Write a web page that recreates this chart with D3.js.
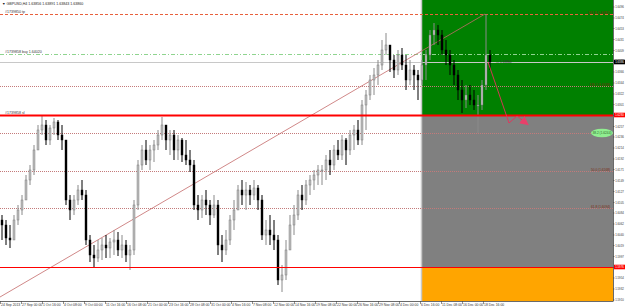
<!DOCTYPE html>
<html>
<head>
<meta charset="utf-8">
<script src="https://cdn.jsdelivr.net/npm/d3@7"></script>
<style>
    body { margin: 0; background: #fff; }
    svg { display: block; font-family: "Liberation Sans", Arial, sans-serif; }
</style>
</head>
<body>
<div class="visualisation"></div>
<script>
// GBPUSD H4, one candle here = 12 hours
const opens = [
    1.6070, 1.6060, 1.6034, 1.6030, 1.6070, 1.6090, 1.6110, 1.6150, 1.6170, 1.6210,
    1.6250, 1.6260, 1.6230, 1.6254, 1.6266, 1.6240, 1.6230, 1.6110, 1.6090, 1.6110,
    1.6130, 1.6120, 1.6030, 1.6000, 1.5994, 1.6010, 1.6020, 1.6014, 1.6026, 1.6030,
    1.6010, 1.6020, 1.6000, 1.6010, 1.6100, 1.6180, 1.6210, 1.6190, 1.6210, 1.6220,
    1.6240, 1.6260, 1.6230, 1.6240, 1.6210, 1.6230, 1.6200, 1.6190, 1.6180, 1.6100,
    1.6090, 1.6110, 1.6100, 1.6080, 1.6100, 1.6020, 1.6010, 1.6030, 1.6070, 1.6090,
    1.6130, 1.6120, 1.6130, 1.6120, 1.6134, 1.6110, 1.6040, 1.6050, 1.6040, 1.6030,
    1.5950, 1.5960, 1.6010, 1.6060, 1.6080, 1.6120, 1.6110, 1.6140, 1.6150, 1.6160,
    1.6170, 1.6170, 1.6190, 1.6180, 1.6210, 1.6200, 1.6230, 1.6210, 1.6240, 1.6250,
    1.6230, 1.6300, 1.6320, 1.6350, 1.6360, 1.6380, 1.6410, 1.6420, 1.6390, 1.6370,
    1.6400, 1.6380, 1.6350, 1.6370, 1.6360, 1.6350, 1.6380, 1.6400, 1.6440, 1.6450,
    1.6440, 1.6410, 1.6400, 1.6380, 1.6360, 1.6330, 1.6310, 1.6320, 1.6310, 1.6300,
    1.6300, 1.6340, 1.6400
];
const highs = [
    1.6080, 1.6070, 1.6060, 1.6080, 1.6100, 1.6120, 1.6160, 1.6180, 1.6220, 1.6260,
    1.6280, 1.6270, 1.6260, 1.6274, 1.6270, 1.6260, 1.6230, 1.6120, 1.6120, 1.6140,
    1.6150, 1.6130, 1.6040, 1.6020, 1.6030, 1.6034, 1.6040, 1.6034, 1.6050, 1.6046,
    1.6040, 1.6030, 1.6020, 1.6110, 1.6190, 1.6220, 1.6230, 1.6220, 1.6230, 1.6250,
    1.6276, 1.6260, 1.6250, 1.6250, 1.6240, 1.6234, 1.6230, 1.6210, 1.6190, 1.6120,
    1.6120, 1.6130, 1.6110, 1.6120, 1.6110, 1.6040, 1.6050, 1.6080, 1.6110, 1.6140,
    1.6150, 1.6146, 1.6140, 1.6150, 1.6140, 1.6120, 1.6070, 1.6080, 1.6070, 1.6040,
    1.5980, 1.6030, 1.6080, 1.6100, 1.6130, 1.6140, 1.6150, 1.6160, 1.6170, 1.6180,
    1.6180, 1.6200, 1.6210, 1.6220, 1.6230, 1.6240, 1.6234, 1.6250, 1.6260, 1.6270,
    1.6310, 1.6330, 1.6360, 1.6374, 1.6390, 1.6430, 1.6444, 1.6420, 1.6400, 1.6410,
    1.6414, 1.6400, 1.6390, 1.6380, 1.6370, 1.6390, 1.6410, 1.6450, 1.6464, 1.6460,
    1.6450, 1.6430, 1.6410, 1.6390, 1.6370, 1.6350, 1.6340, 1.6340, 1.6330, 1.6320,
    1.6350, 1.6482, 1.6410
];
const lows = [
    1.6030, 1.6020, 1.6014, 1.6030, 1.6060, 1.6080, 1.6110, 1.6140, 1.6160, 1.6210,
    1.6240, 1.6220, 1.6220, 1.6240, 1.6230, 1.6210, 1.6100, 1.6070, 1.6080, 1.6100,
    1.6110, 1.6020, 1.5986, 1.5974, 1.5986, 1.5990, 1.5994, 1.5994, 1.6000, 1.5998,
    1.5994, 1.5986, 1.5970, 1.6000, 1.6090, 1.6170, 1.6180, 1.6170, 1.6186, 1.6210,
    1.6230, 1.6210, 1.6200, 1.6190, 1.6190, 1.6186, 1.6180, 1.6166, 1.6090, 1.6070,
    1.6074, 1.6080, 1.6060, 1.6074, 1.6000, 1.5986, 1.6000, 1.6020, 1.6050, 1.6090,
    1.6100, 1.6090, 1.6100, 1.6110, 1.6090, 1.6030, 1.6020, 1.6020, 1.6010, 1.5940,
    1.5926, 1.5950, 1.6010, 1.6040, 1.6070, 1.6090, 1.6100, 1.6120, 1.6130, 1.6140,
    1.6140, 1.6150, 1.6160, 1.6170, 1.6190, 1.6190, 1.6180, 1.6200, 1.6210, 1.6220,
    1.6220, 1.6250, 1.6310, 1.6320, 1.6340, 1.6370, 1.6400, 1.6366, 1.6354, 1.6360,
    1.6370, 1.6330, 1.6340, 1.6330, 1.6310, 1.6340, 1.6350, 1.6390, 1.6420, 1.6420,
    1.6400, 1.6380, 1.6360, 1.6340, 1.6310, 1.6284, 1.6294, 1.6300, 1.6290, 1.6244,
    1.6290, 1.6330, 1.6370
];
const closes = [
    1.6060, 1.6034, 1.6030, 1.6070, 1.6090, 1.6110, 1.6150, 1.6170, 1.6210, 1.6250,
    1.6260, 1.6230, 1.6254, 1.6266, 1.6240, 1.6230, 1.6110, 1.6090, 1.6110, 1.6130,
    1.6120, 1.6030, 1.6000, 1.5994, 1.6010, 1.6020, 1.6014, 1.6026, 1.6030, 1.6010,
    1.6020, 1.6000, 1.6010, 1.6100, 1.6180, 1.6210, 1.6190, 1.6210, 1.6220, 1.6240,
    1.6260, 1.6230, 1.6240, 1.6210, 1.6230, 1.6200, 1.6190, 1.6180, 1.6100, 1.6090,
    1.6110, 1.6100, 1.6080, 1.6100, 1.6020, 1.6010, 1.6030, 1.6070, 1.6090, 1.6130,
    1.6120, 1.6130, 1.6120, 1.6134, 1.6110, 1.6040, 1.6050, 1.6040, 1.6030, 1.5950,
    1.5960, 1.6010, 1.6060, 1.6080, 1.6120, 1.6110, 1.6140, 1.6150, 1.6160, 1.6170,
    1.6170, 1.6190, 1.6180, 1.6210, 1.6200, 1.6230, 1.6210, 1.6240, 1.6250, 1.6230,
    1.6300, 1.6320, 1.6350, 1.6360, 1.6380, 1.6410, 1.6420, 1.6390, 1.6370, 1.6400,
    1.6380, 1.6350, 1.6370, 1.6360, 1.6350, 1.6380, 1.6400, 1.6440, 1.6450, 1.6440,
    1.6410, 1.6400, 1.6380, 1.6360, 1.6330, 1.6310, 1.6320, 1.6310, 1.6300, 1.6300,
    1.6340, 1.6400, 1.6386
];

const dateLabels = ["24 Sep 2013", "27 Sep 00:00", "1 Oct 16:00", "4 Oct 08:00", "9 Oct 00:00",
    "11 Oct 16:00", "16 Oct 08:00", "21 Oct 00:00", "23 Oct 16:00", "28 Oct 08:00",
    "31 Oct 00:00", "4 Nov 16:00", "7 Nov 08:00", "12 Nov 00:00", "14 Nov 16:00",
    "19 Nov 08:00", "22 Nov 00:00", "26 Nov 16:00", "29 Nov 08:00", "4 Dec 00:00",
    "6 Dec 16:00", "11 Dec 08:00", "16 Dec 00:00", "18 Dec 16:00"];
const priceTicks = [1.6496, 1.6474, 1.6453, 1.6431, 1.6409, 1.6388, 1.6366, 1.6344, 1.6322,
    1.6301, 1.6279, 1.6257, 1.6236, 1.6214, 1.6192, 1.6171, 1.6149, 1.6127, 1.6105, 1.6084,
    1.6062, 1.6040, 1.6019, 1.5997, 1.5975, 1.5954, 1.5932, 1.5910];

// order levels and fibo levels
const tpLevel = 1.6482, buyLevel = 1.6402, bidLevel = 1.6386, slLevel = 1.6280, lowLevel = 1.5976;
const fiboLevels = [1.6338, 1.6244, 1.6168, 1.6094];
const fiboNames = ["138.2", "38.2", "50.0", "61.8"];
const zoneStart = 105;
const trendStart = [-0.5, 1.5916], trendEnd = [120.75, 1.6482];
const arrowPath = [[121.5, 1.6386], [126.75, 1.6264], [128.75, 1.6278], [131, 1.6264]];

const width = 625, height = 307;
const plotRight = 613, plotBottom = 301;

const svg = d3.select(".visualisation")
    .append("svg")
    .attr("width", width)
    .attr("height", height);

const x = d3.scaleLinear().domain([-0.5, 152.75]).range([0, plotRight]);
const y = d3.scaleLinear().domain([1.6510, 1.5908]).range([0, plotBottom]);

svg.append("defs").append("clipPath").attr("id", "plot")
    .append("rect").attr("width", plotRight).attr("height", plotBottom);

const g = svg.append("g").attr("clip-path", "url(#plot)");

// zones
const x0 = x(zoneStart) - 0.5;
const zones = [
    { top: 1.6510, bottom: slLevel, color: "#008000" },
    { top: slLevel, bottom: lowLevel, color: "#808080" },
    { top: lowLevel, bottom: 1.5908, color: "#ffa500" }
];
g.selectAll("rect.zone").data(zones).join("rect")
    .attr("class", "zone")
    .attr("x", x0)
    .attr("y", d => y(d.top))
    .attr("width", plotRight - x0)
    .attr("height", d => y(d.bottom) - y(d.top))
    .attr("fill", d => d.color);
g.append("line")
    .attr("x1", x0).attr("x2", x0).attr("y1", 0).attr("y2", plotBottom)
    .attr("stroke", "#c8c8c8").attr("stroke-width", 1.5);

// horizontal lines
function hline(price, color, dash, w) {
    g.append("line")
        .attr("x1", 0).attr("x2", plotRight)
        .attr("y1", Math.round(y(price)) + 0.5).attr("y2", Math.round(y(price)) + 0.5)
        .attr("stroke", color)
        .attr("stroke-width", w || 1)
        .attr("stroke-dasharray", dash);
}
hline(tpLevel, "#e8603c", "3,2");
hline(buyLevel, "#8fd48f", "4,2,1,2");
hline(bidLevel, "#c8c8c8", null);
fiboLevels.forEach(p => hline(p, "#c47a7a", "1,1"));

// trendline
g.append("line")
    .attr("x1", x(trendStart[0])).attr("y1", y(trendStart[1]))
    .attr("x2", x(trendEnd[0])).attr("y2", y(trendEnd[1]))
    .attr("stroke", "#c46a6a").attr("stroke-width", 0.8);

// candles
const candles = closes.map((c, i) => ({ i: i, o: opens[i], h: highs[i], l: lows[i], c: c }));
g.selectAll("line.wick").data(candles).join("line")
    .attr("class", "wick")
    .attr("x1", d => x(d.i)).attr("x2", d => x(d.i))
    .attr("y1", d => y(d.h)).attr("y2", d => y(d.l))
    .attr("stroke", d => d.c >= d.o ? "#8a8a8a" : "#000")
    .attr("stroke-width", 1);
g.selectAll("rect.body").data(candles).join("rect")
    .attr("class", "body")
    .attr("x", d => x(d.i) - 1)
    .attr("y", d => y(Math.max(d.o, d.c)))
    .attr("width", 2)
    .attr("height", d => Math.max(1, Math.abs(y(d.o) - y(d.c))))
    .attr("fill", d => d.c >= d.o ? "#bdbdbd" : "#000")
    .attr("stroke", d => d.c >= d.o ? "#6e6e6e" : "#000")
    .attr("stroke-width", 0.4);

// solid red levels on top
hline(slLevel, "#ff0000", null, 2);
hline(lowLevel, "#ff0000", null, 1.2);

// projected move arrow
svg.append("defs").append("marker")
    .attr("id", "head").attr("viewBox", "0 0 10 10")
    .attr("refX", 6).attr("refY", 5)
    .attr("markerWidth", 9).attr("markerHeight", 9)
    .attr("markerUnits", "userSpaceOnUse")
    .attr("orient", "auto")
    .append("path").attr("d", "M0,0L10,5L0,10Z").attr("fill", "#e8406a");
g.append("path")
    .attr("d", d3.line().x(d => x(d[0])).y(d => y(d[1]))(arrowPath))
    .attr("fill", "none")
    .attr("stroke", "#e8305a").attr("stroke-width", 0.9)
    .attr("marker-end", "url(#head)");

// small texts
const tiny = 3.6;
svg.append("text").attr("x", 2).attr("y", 4.5)
    .attr("font-size", tiny).attr("fill", "#222")
    .text("\u25BC GBPUSD,H4 1.63856 1.63891 1.63843 1.63860");

const leftLabels = [[tpLevel, "#1739850 tp"], [buyLevel, "#1739858 buy 1.64020"], [slLevel, "#1739858 sl"]];
svg.selectAll("text.left").data(leftLabels).join("text")
    .attr("class", "left")
    .attr("x", 5).attr("y", d => y(d[0]) - 1.5)
    .attr("font-size", tiny).attr("fill", "#333")
    .text(d => d[1]);

svg.append("text").attr("x", x(123.5)).attr("y", y(bidLevel) + 1.2)
    .attr("font-size", 3.2).attr("fill", "#333")
    .text("\u2014 1.63860");

// fibo labels at the right edge
svg.append("text").attr("x", 610).attr("y", y(tpLevel) - 0.5)
    .attr("text-anchor", "end").attr("font-size", 3.4).attr("fill", "#7a2a10")
    .text("161.8 (" + tpLevel.toFixed(4) + ")");
svg.append("ellipse")
    .attr("cx", 602).attr("cy", y(fiboLevels[1]))
    .attr("rx", 11).attr("ry", 4.2)
    .attr("fill", "#90ee90");
fiboLevels.forEach((p, i) => {
    svg.append("text")
        .attr("x", i === 1 ? 602 : 610)
        .attr("y", i === 1 ? y(p) + 1.2 : y(p) - 0.5)
        .attr("text-anchor", i === 1 ? "middle" : "end")
        .attr("font-size", 3.2)
        .attr("fill", i === 1 ? "#2f6a2f" : "#7a2a10")
        .text(fiboNames[i] + " (" + p.toFixed(4) + ")");
});

// axes frame
svg.append("line").attr("x1", plotRight + 0.5).attr("x2", plotRight + 0.5)
    .attr("y1", 0).attr("y2", plotBottom).attr("stroke", "#444").attr("stroke-width", 0.8);
svg.append("line").attr("x1", 0).attr("x2", plotRight + 0.5)
    .attr("y1", plotBottom + 0.5).attr("y2", plotBottom + 0.5).attr("stroke", "#444").attr("stroke-width", 0.8);

// price axis
const axisFont = 2.8;
const yAxis = svg.append("g");
yAxis.selectAll("line").data(priceTicks).join("line")
    .attr("x1", plotRight).attr("x2", plotRight + 1.5)
    .attr("y1", d => y(d)).attr("y2", d => y(d))
    .attr("stroke", "#444").attr("stroke-width", 0.6);
yAxis.selectAll("text").data(priceTicks).join("text")
    .attr("x", plotRight + 2.2).attr("y", d => y(d) + 1)
    .attr("font-size", axisFont).attr("fill", "#333")
    .text(d => d.toFixed(4));

// marked prices on the axis
const marks = [[bidLevel, "#000"], [slLevel, "#ff0000"], [lowLevel, "#ff0000"]];
marks.forEach(m => {
    svg.append("rect").attr("x", plotRight + 1).attr("y", y(m[0]) - 2.3)
        .attr("width", 11).attr("height", 4.6).attr("fill", m[1]);
    svg.append("text").attr("x", plotRight + 2.2).attr("y", y(m[0]) + 1)
        .attr("font-size", axisFont).attr("fill", "#fff")
        .text(m[0].toFixed(4));
});

// time axis
const xAxis = svg.append("g");
xAxis.selectAll("line").data(dateLabels).join("line")
    .attr("x1", (d, k) => x(k * 5.25) - 1.5).attr("x2", (d, k) => x(k * 5.25) - 1.5)
    .attr("y1", plotBottom).attr("y2", plotBottom + 3)
    .attr("stroke", "#444").attr("stroke-width", 0.6);
xAxis.selectAll("text").data(dateLabels).join("text")
    .attr("x", (d, k) => Math.max(0.5, x(k * 5.25) - 1))
    .attr("y", plotBottom + 4.8)
    .attr("font-size", 3.4).attr("fill", "#333")
    .text(d => d);
</script>
</body>
</html>
